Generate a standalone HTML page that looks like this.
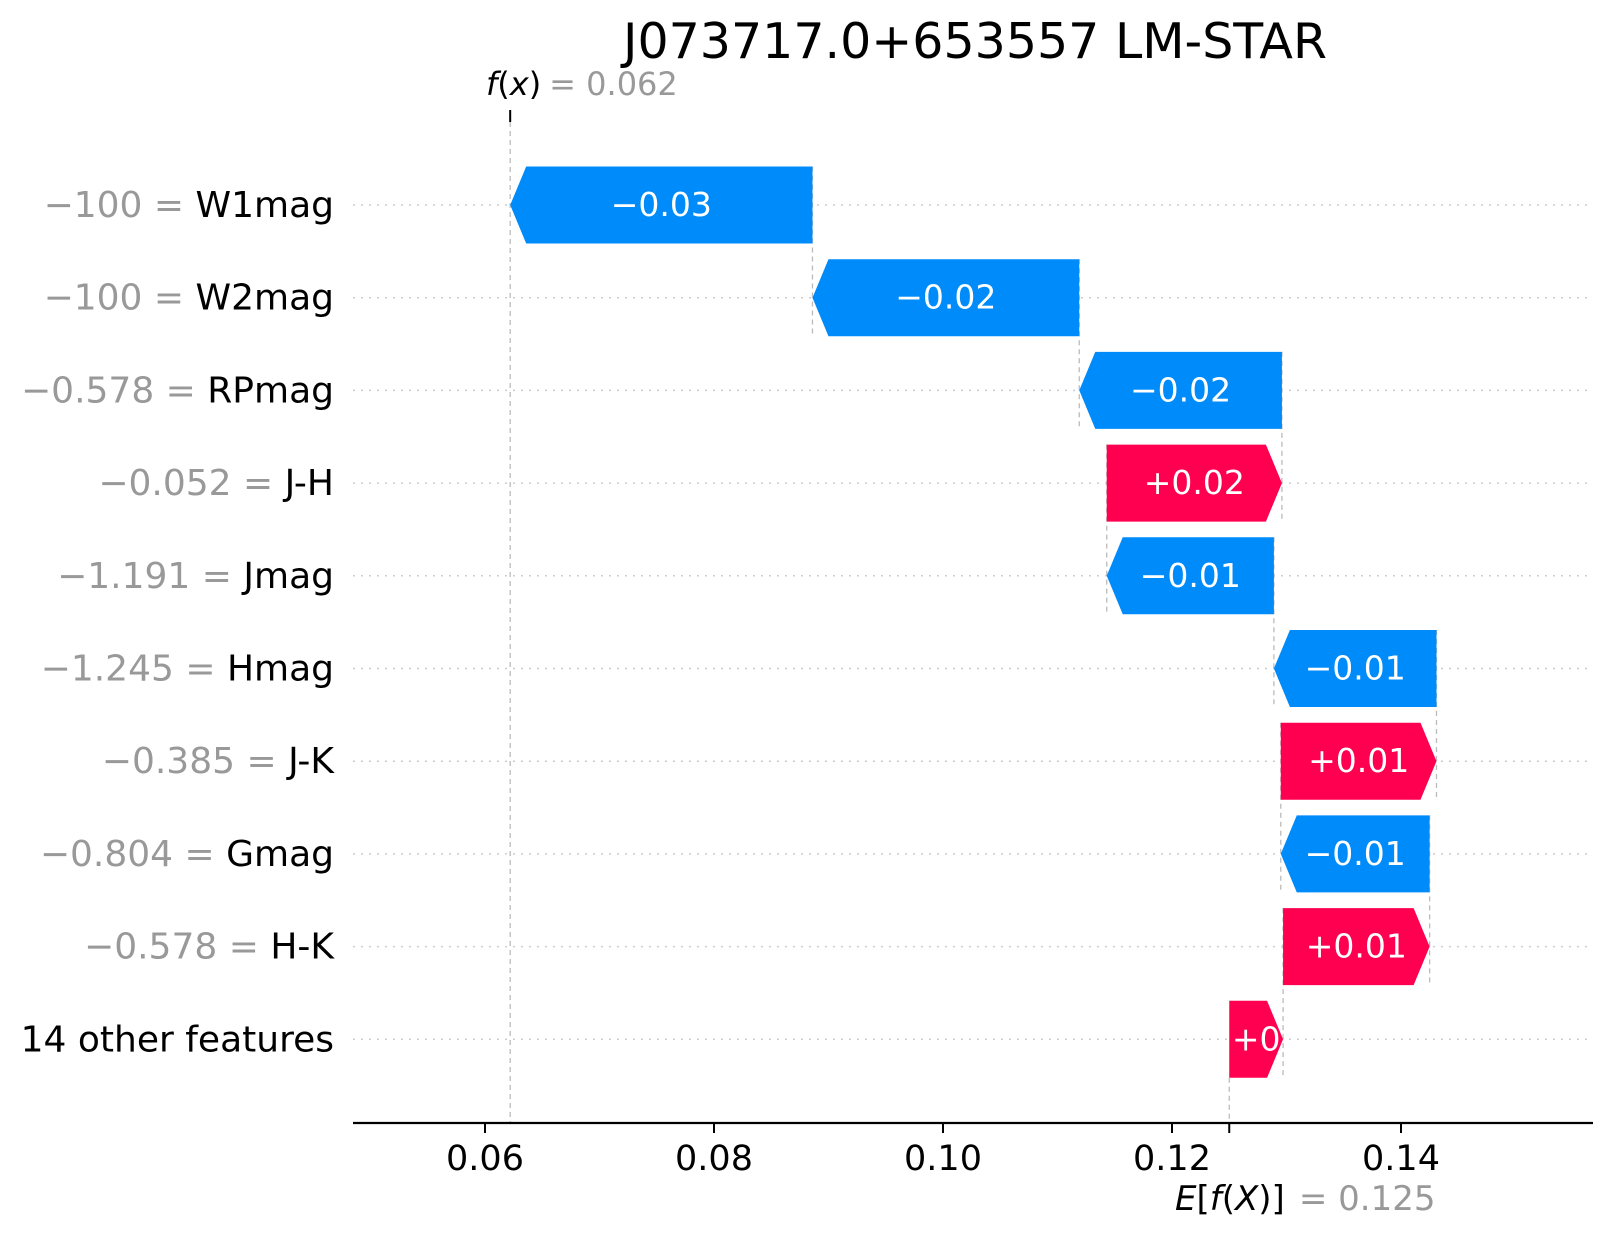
<!DOCTYPE html>
<html><head><meta charset="utf-8"><style>
html,body{margin:0;padding:0;background:#fff;}
svg{display:block;font-family:"DejaVu Sans","Liberation Sans",sans-serif;}
</style></head><body>
<svg id="chart" width="1613" height="1236" viewBox="0 0 1613 1236" xmlns="http://www.w3.org/2000/svg">
<text x="975" y="58" font-size="49" text-anchor="middle" fill="#000">J073717.0+653557 LM-STAR</text>
<g id="grid"></g><g id="connectors"></g><g id="bars"></g><g id="labels"></g><g id="axis"></g>
</svg>
<script>
const features = ["W1mag","W2mag","RPmag","J-H","Jmag","Hmag","J-K","Gmag","H-K","14 other features"];
const featureValues = ["\u2212100","\u2212100","\u22120.578","\u22120.052","\u22121.191","\u22121.245","\u22120.385","\u22120.804","\u22120.578",""];
const shapValues = [-0.0264,-0.0233,-0.0177,0.0153,-0.0146,-0.0142,0.0136,-0.0130,0.0128,0.0047];
const barLabels = ["\u22120.03","\u22120.02","\u22120.02","+0.02","\u22120.01","\u22120.01","+0.01","\u22120.01","+0.01","+0"];
const baseValue = 0.125;
const tickValues = [0.06,0.08,0.10,0.12,0.14];
const tickLabels = ["0.06","0.08","0.10","0.12","0.14"];

const NS="http://www.w3.org/2000/svg";
const X=v=>485+(v-0.06)*11450;
const Y=i=>205+i*92.7;
const BH=77, HEAD=16;
function mk(tag,attrs,parent,text){const e=document.createElementNS(NS,tag);for(const k in attrs)e.setAttribute(k,attrs[k]);if(text!==undefined)e.textContent=text;document.getElementById(parent).appendChild(e);return e;}

const n=features.length;
const starts=new Array(n), ends=new Array(n);
let cur=baseValue;
for(let i=n-1;i>=0;i--){starts[i]=cur;cur+=shapValues[i];ends[i]=cur;}
const fx=ends[0];

for(let i=0;i<n;i++){
  const g=mk('line',{x1:353,x2:1593,y1:Y(i),y2:Y(i),stroke:'#ccc','stroke-width':1.5,'stroke-dasharray':'2,6'},'grid');
  
  
}
const fl=mk('line',{x1:X(fx),x2:X(fx),y1:113,y2:1123,stroke:'#bbb','stroke-width':1.3,'stroke-dasharray':'5,4'},'connectors');


mk('line',{x1:X(fx),x2:X(fx),y1:110,y2:122,stroke:'#000','stroke-width':2},'connectors');
const bl=mk('line',{x1:X(baseValue),x2:X(baseValue),y1:Y(n-1)+BH/2,y2:1123,stroke:'#bbb','stroke-width':1.3,'stroke-dasharray':'5,4'},'connectors');


for(let i=0;i<n;i++){
  if(i>0){
    const c=mk('line',{x1:X(ends[i]),x2:X(ends[i]),y1:Y(i-1)-BH/2,y2:Y(i)+BH/2,stroke:'#bbb','stroke-width':1.3,'stroke-dasharray':'5,4'},'connectors');
    
    
  }
  const s=X(starts[i]), e=X(ends[i]), y=Y(i);
  const pos=shapValues[i]>0;
  const dir=pos?1:-1;
  const head=Math.min(HEAD,Math.abs(e-s));
  const pts=[[s,y-BH/2],[e-dir*head,y-BH/2],[e,y],[e-dir*head,y+BH/2],[s,y+BH/2]].map(p=>p.join(',')).join(' ');
  const b=mk('polygon',{points:pts,fill:pos?'#ff0051':'#008bfb'},'bars');
  
  
  const t=mk('text',{x:(s+e)/2,y:y+11,'font-size':33,fill:'#fff','text-anchor':'middle'},'bars',barLabels[i]);
  
  
  const lab=mk('text',{x:334,y:y+12,'font-size':36,'text-anchor':'end',fill:'#000'},'labels');
  
  
  if(featureValues[i]){
    const a=document.createElementNS(NS,'tspan');a.setAttribute('fill','#999');a.textContent=featureValues[i]+' = ';lab.appendChild(a);
  }
  const b2=document.createElementNS(NS,'tspan');b2.textContent=features[i];lab.appendChild(b2);
}
const ax=mk('line',{x1:353,x2:1593,y1:1123,y2:1123,stroke:'#000','stroke-width':2.2},'axis');


tickValues.forEach((v,k)=>{
  mk('line',{x1:X(v),x2:X(v),y1:1123,y2:1133,stroke:'#000','stroke-width':2},'axis');
  const t=mk('text',{x:X(v),y:1170,'font-size':35,'text-anchor':'middle',fill:'#000'},'axis',tickLabels[k]);
  
  
});
mk('line',{x1:X(baseValue),x2:X(baseValue),y1:1123,y2:1133,stroke:'#000','stroke-width':2},'axis');
const el=mk('text',{x:1175,y:1210,'font-size':34,'text-anchor':'start',fill:'#000'},'axis');


el.innerHTML='<tspan font-style="italic">E</tspan>[<tspan font-style="italic">f</tspan>(<tspan font-style="italic">X</tspan>)]<tspan fill="#999" dx="14">= '+baseValue.toFixed(3)+'</tspan>';
const fxl=mk('text',{x:486,y:95,'font-size':32,'text-anchor':'start',fill:'#000'},'axis');


fxl.innerHTML='<tspan font-style="italic">f</tspan>(<tspan font-style="italic">x</tspan>)<tspan fill="#999" dx="8">= '+fx.toFixed(3)+'</tspan>';
</script>
</body></html>
